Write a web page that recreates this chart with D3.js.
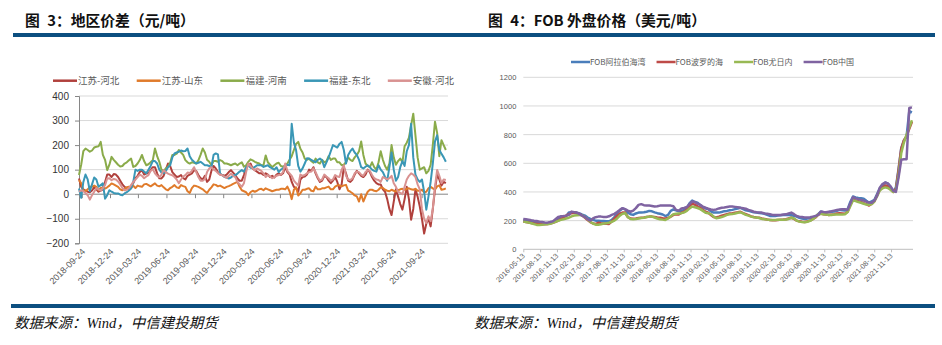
<!DOCTYPE html>
<html><head><meta charset="utf-8">
<script src="https://cdn.jsdelivr.net/npm/d3@7/dist/d3.min.js"></script>
<style>body{margin:0;background:#fff}svg{display:block}</style>
</head><body><svg id="c" width="942" height="345"></svg>
<script>
// ---------- Left chart data: 地区价差 (weekly) ----------
const leftSeriesNames = ["江苏-河北", "江苏-山东", "福建-河南", "福建-东北", "安徽-河北"];
const leftStartDate = "2018-09-15";
const leftEndDate = "2021-12-18";
const leftTickLabels = ["2018-09-24","2018-12-24","2019-03-24","2019-06-24","2019-09-24","2019-12-24","2020-03-24","2020-06-24","2020-09-24","2020-12-24","2021-03-24","2021-06-24","2021-09-24"];
const leftYTicks = [-200, -100, 0, 100, 200, 300, 400];

const jsHebei = [64,30,20,15,10,8,15,28,20,10,15,20,50,80,80,70,82,80,70,55,40,30,25,20,35,45,65,75,90,98,80,85,85,98,110,110,85,65,64,75,100,125,115,90,80,70,72,78,65,60,75,80,85,98,95,78,65,60,75,50,60,95,115,105,90,80,78,75,80,90,98,
88,78,64,55,55,78,110,120,125,105,98,92,85,85,78,
85,80,70,75,68,80,85,78,85,110,90,80,50,30,25,10,60,70,72,80,100,95,110,85,65,50,55,75,70,55,45,55,70,50,20,40,110,85,55,50,60,80,95,85,75,70,80,100,90,70,55,45,40,
40,20,10,-20,-60,-85,-30,20,-10,-40,-63,-20,30,-20,-104,-60,20,-10,-50,-100,-160,-120,-100,-131,-60,20,80,60,35,50,45];

const jsShandong = [57,45,16,12,20,30,30,35,30,16,25,28,23,28,35,44,40,35,30,20,16,22,28,30,25,35,25,35,32,30,40,42,37,32,38,44,35,32,37,28,20,16,25,30,37,28,25,37,33,30,12,5,25,35,33,30,25,20,12,5,18,28,40,38,32,35,30,25,30,33,37,42,46,50,30,16,12,8,-4,8,14,10,14,20,22,16,
24,20,16,12,15,18,18,22,22,20,31,12,-20,18,28,-5,4,18,18,22,24,14,12,31,20,20,24,24,28,31,20,20,31,36,36,32,36,38,15,10,4,-5,-9,-30,0,-30,-9,10,18,18,14,12,18,28,25,18,14,12,18,14,11,16,20,22,18,22,24,20,18,22,14,14,18,8,10,24,30,24,18,32,36,18,20,24];

const fjHenan = [78,120,175,186,180,173,178,190,193,195,213,160,140,98,120,152,140,130,120,113,115,125,130,138,145,111,115,125,139,160,135,118,122,130,139,186,155,132,100,95,105,111,128,160,160,165,180,170,160,139,130,125,130,128,125,138,160,186,170,140,132,118,135,135,132,139,135,125,125,122,118,122,125,118,125,130,112,118,132,142,138,132,128,125,118,118,
158,130,120,110,118,125,128,115,112,118,125,140,155,180,205,213,185,170,145,140,145,135,128,145,130,125,140,130,135,155,140,145,145,130,130,118,120,130,150,140,135,150,160,175,215,160,125,115,110,130,110,100,130,175,140,115,100,125,200,150,120,135,145,130,195,210,230,280,328,240,150,100,105,110,85,95,120,200,295,250,155,220,200,180];

const fjDongbei = [23,-15,50,80,60,12,40,68,60,30,37,44,-18,-4,16,10,5,3,3,-2,-4,3,8,15,23,50,100,95,100,100,92,85,100,115,135,135,125,100,88,85,95,110,118,150,166,170,173,178,175,176,186,155,140,132,125,128,132,125,118,118,115,111,160,166,162,84,77,70,68,64,68,75,78,84,92,98,92,110,118,108,106,111,118,118,118,111,
115,118,110,105,100,110,90,100,105,118,120,118,287,210,180,115,92,105,125,146,145,140,135,130,140,145,138,110,130,150,175,200,195,190,205,213,180,125,160,175,186,170,160,140,110,105,112,118,110,100,95,92,118,100,90,70,55,110,170,100,55,70,110,135,115,175,200,287,150,80,60,50,60,10,-63,-10,50,125,215,240,180,165,150,132];

const ahHebei = [10,16,12,5,-4,-22,-4,10,25,20,15,25,37,64,65,57,62,60,52,40,25,16,18,25,37,50,60,70,80,75,65,72,78,95,102,85,75,70,80,98,90,84,80,77,70,60,45,60,72,78,88,86,95,110,90,70,55,55,62,90,105,110,100,95,86,80,77,72,66,75,84,75,70,50,40,30,45,90,125,115,105,98,105,100,95,85,
70,78,72,65,70,75,78,80,90,125,95,85,75,55,45,35,80,75,78,85,90,92,105,90,70,55,60,80,72,65,55,60,78,72,70,100,118,75,60,58,65,85,92,90,80,75,90,98,95,78,65,60,58,50,70,65,60,65,75,45,30,10,5,0,30,60,75,85,80,70,40,20,-60,-100,-117,-90,-110,-60,30,99,75,45,60,58];

const leftColors = ["#b0403c", "#e07b2b", "#8aab4a", "#3a97b6", "#d99291"];

// ---------- Right chart data: FOB 外盘价格 (biweekly) ----------
const rightSeriesNames = ["FOB阿拉伯海湾", "FOB波罗的海", "FOB尤日内", "FOB中国"];
const rightStartDate = "2016-05-13";
const rightEndDate = "2022-03-13";
const rightStepDays = 14.65;
const rightTickLabels = ["2016-05-13","2016-08-13","2016-11-13","2017-02-13","2017-05-13","2017-08-13","2017-11-13","2018-02-13","2018-05-13","2018-08-13","2018-11-13","2019-02-13","2019-05-13","2019-08-13","2019-11-13","2020-02-13","2020-05-13","2020-08-13","2020-11-13","2021-02-13","2021-05-13","2021-08-13","2021-11-13"];
const rightYTicks = [0, 200, 400, 600, 800, 1000, 1200];

const fobArab = [205,202,198,195,190,186,185,183,182,182,185,192,200,215,228,228,232,256,258,258,256,250,242,235,222,212,205,200,200,198,198,196,195,205,225,250,270,285,278,255,245,240,250,256,256,258,262,268,265,258,252,248,243,232,240,268,278,272,265,268,275,285,320,340,330,325,310,293,285,280,265,256,256,256,260,266,268,272,275,280,285,290,280,272,268,264,258,256,254,252,248,240,233,233,233,235,237,240,240,240,238,234,228,220,215,212,215,217,222,228,245,262,258,256,258,262,264,268,275,272,270,280,330,368,362,358,356,352,338,325,335,345,385,425,445,466,458,435,405,430,560,706,760,788,963,955];

const fobBaltic = [193,190,187,184,180,178,176,175,175,176,180,185,192,200,210,222,235,245,252,256,253,245,235,220,205,190,180,177,185,182,180,178,177,195,215,232,248,256,256,225,215,213,215,218,220,222,225,228,228,225,222,220,217,215,218,228,240,245,243,255,262,275,300,318,312,300,290,275,262,255,240,225,222,228,235,240,245,250,252,255,258,262,252,245,238,230,225,222,220,215,212,208,205,202,203,205,207,208,210,215,220,212,200,195,192,190,195,200,210,222,240,250,245,242,240,242,245,250,252,250,248,262,310,345,340,335,330,322,315,305,318,335,375,415,430,445,440,420,400,420,550,700,760,790,840,890];

const fobYuzhny = [193,190,186,182,176,170,170,172,174,175,178,185,192,198,205,210,215,220,230,236,238,240,236,225,210,192,180,172,172,175,180,182,185,192,200,215,235,248,252,225,212,210,212,215,218,220,225,228,228,222,215,210,207,205,215,230,245,248,250,252,258,268,285,298,293,288,280,268,255,252,245,228,217,220,225,232,240,245,247,250,255,258,250,240,235,228,224,222,218,212,210,207,205,205,205,206,207,207,208,212,220,215,200,193,190,188,192,198,210,225,245,248,245,242,240,240,242,242,242,243,245,260,300,342,336,330,325,318,312,310,315,335,370,410,425,432,428,415,400,410,520,670,745,800,850,900];

const fobChina = [212,210,207,203,200,198,193,190,187,186,190,195,210,225,230,232,235,240,263,258,255,245,235,225,210,200,215,224,228,228,226,226,230,240,247,260,275,287,280,270,262,270,287,310,315,308,305,305,302,298,300,305,305,305,305,305,300,275,270,285,288,295,315,333,330,318,310,298,290,283,278,275,278,285,290,291,295,298,298,296,294,290,287,283,275,270,262,258,256,256,250,248,245,240,240,240,240,242,244,250,256,245,232,228,225,222,222,224,228,232,240,263,260,258,262,265,270,275,277,280,280,275,320,364,355,350,345,340,332,326,325,340,375,430,455,466,460,440,408,400,500,625,628,629,986,990];

const rightColors = ["#4a7ebb", "#be4b48", "#98b954", "#7f63a1"];

// ---------- Drawing ----------
const svg = d3.select("#c");
const parse = d3.timeParse("%Y-%m-%d");
const cjk = "'Noto Sans CJK SC', 'Noto Sans', sans-serif";
const num = "'Liberation Sans', Arial, sans-serif";

// Title bars and headers
svg.append("rect").attr("x", 13).attr("y", 33).attr("width", 922).attr("height", 4).attr("fill", "#0c4f80");
svg.append("rect").attr("x", 11).attr("y", 304).attr("width", 924).attr("height", 4).attr("fill", "#0c4f80");
svg.append("text").attr("x", 25).attr("y", 26).attr("font-family", cjk).attr("font-size", 14.8).attr("font-weight", 700).attr("fill", "#111").text("图\u20023：地区价差（元/吨）");
svg.append("text").attr("x", 488).attr("y", 26).attr("font-family", cjk).attr("font-size", 14.8).attr("font-weight", 700).attr("fill", "#111").text("图\u20024：FOB 外盘价格（美元/吨）");
["数据来源：Wind，中信建投期货"].forEach(t => {
  [14, 474].forEach(x => {
    svg.append("text").attr("x", x).attr("y", 328).attr("font-family", "'Liberation Serif', 'Noto Sans CJK SC', serif")
      .attr("font-style", "italic").attr("font-size", 14.5).attr("fill", "#111").text(t);
  });
});

// ----- Left chart -----
(function(){
  const x = d3.scaleTime().domain([parse(leftStartDate), parse(leftEndDate)]).range([79, 448]);
  const y = d3.scaleLinear().domain([-200, 400]).range([243.3, 96]);
  const g = svg.append("g");
  leftYTicks.filter(v => v !== 0).forEach(v => {
    g.append("line").attr("x1", 79).attr("x2", 448).attr("y1", y(v)).attr("y2", y(v)).attr("stroke", "#d9d9d9").attr("stroke-width", 1);
  });
  const yAxis = d3.axisLeft(y).tickValues(leftYTicks).tickSize(4).tickPadding(6).tickFormat(d3.format("d"));
  const ya = g.append("g").attr("transform", "translate(79,0)").call(yAxis);
  ya.select(".domain").attr("stroke", "#868686");
  ya.selectAll(".tick line").attr("stroke", "#868686");
  ya.selectAll("text").attr("font-family", num).attr("font-size", 10).attr("fill", "#333");
  const tickDates = leftTickLabels.map(parse);
  const xAxis = d3.axisBottom(x).tickValues(tickDates).tickSize(4).tickFormat("");
  const xa = g.append("g").attr("transform", `translate(0,${y(0)})`).call(xAxis);
  xa.select(".domain").attr("stroke", "#868686").attr("d", `M79,0H448`);
  xa.selectAll(".tick line").attr("stroke", "#868686");
  leftTickLabels.forEach((lab, i) => {
    g.append("text").attr("transform", `translate(${x(tickDates[i]) + 4},${y(-200) + 9}) rotate(-45)`)
      .attr("text-anchor", "end").attr("font-family", num).attr("font-size", 9).attr("fill", "#595959").text(lab);
  });
  const start = parse(leftStartDate);
  const series = [jsHebei, jsShandong, fjHenan, fjDongbei, ahHebei];
  const line = d3.line().x((d, i) => x(d3.timeDay.offset(start, 7 * i))).y(d => y(d));
  series.forEach((s, k) => {
    g.append("path").datum(s).attr("d", line).attr("fill", "none").attr("stroke", leftColors[k])
      .attr("stroke-width", 2).attr("stroke-linejoin", "round");
  });
  let lx = 53;
  leftSeriesNames.forEach((n, k) => {
    g.append("line").attr("x1", lx).attr("x2", lx + 24).attr("y1", 80.7).attr("y2", 80.7).attr("stroke", leftColors[k]).attr("stroke-width", 2.5);
    g.append("text").attr("x", lx + 25).attr("y", 80.7).attr("dy", "0.35em").attr("font-family", cjk).attr("font-size", 9.5).attr("fill", "#595959").text(n);
    lx += 83.7;
  });
})();

// ----- Right chart -----
(function(){
  const x = d3.scaleTime().domain([parse(rightStartDate), parse(rightEndDate)]).range([523.3, 913]);
  const y = d3.scaleLinear().domain([0, 1200]).range([249.3, 77.3]);
  const g = svg.append("g");
  rightYTicks.filter(v => v !== 0).forEach(v => {
    g.append("line").attr("x1", 523.3).attr("x2", 913).attr("y1", y(v)).attr("y2", y(v)).attr("stroke", "#d9d9d9").attr("stroke-width", 1);
  });
  const yAxis = d3.axisLeft(y).tickValues(rightYTicks).tickSize(0).tickPadding(7).tickFormat(d3.format("d"));
  const ya = g.append("g").attr("transform", "translate(523.3,0)").call(yAxis);
  ya.select(".domain").remove();
  ya.selectAll("text").attr("font-family", num).attr("font-size", 7.5).attr("fill", "#595959");
  const tickDates = rightTickLabels.map(parse);
  const xAxis = d3.axisBottom(x).tickValues(tickDates).tickSize(3).tickFormat("");
  const xa = g.append("g").attr("transform", `translate(0,${y(0)})`).call(xAxis);
  xa.select(".domain").attr("stroke", "#bfbfbf").attr("d", "M523.3,0H913");
  xa.selectAll(".tick line").attr("stroke", "#bfbfbf");
  rightTickLabels.forEach((lab, i) => {
    g.append("text").attr("transform", `translate(${x(tickDates[i]) + 2},${y(0) + 7}) rotate(-45)`)
      .attr("text-anchor", "end").attr("font-family", num).attr("font-size", 7.3).attr("fill", "#595959").text(lab);
  });
  const start = parse(rightStartDate);
  const series = [fobArab, fobBaltic, fobYuzhny, fobChina];
  const line = d3.line().x((d, i) => x(d3.timeHour.offset(start, Math.round(i * rightStepDays * 24)))).y(d => y(d));
  series.forEach((s, k) => {
    g.append("path").datum(s).attr("d", line).attr("fill", "none").attr("stroke", rightColors[k])
      .attr("stroke-width", 2.5).attr("stroke-linejoin", "round");
  });
  let lx = 571;
  rightSeriesNames.forEach((n, k) => {
    g.append("line").attr("x1", lx).attr("x2", lx + 19).attr("y1", 62).attr("y2", 62).attr("stroke", rightColors[k]).attr("stroke-width", 2.5);
    const t = g.append("text").attr("x", lx + 19).attr("y", 62).attr("dy", "0.35em").attr("font-family", cjk).attr("font-size", 8).attr("fill", "#595959").text(n);
    lx += 19 + t.node().getComputedTextLength() + 11;
  });
})();
</script></body></html>
